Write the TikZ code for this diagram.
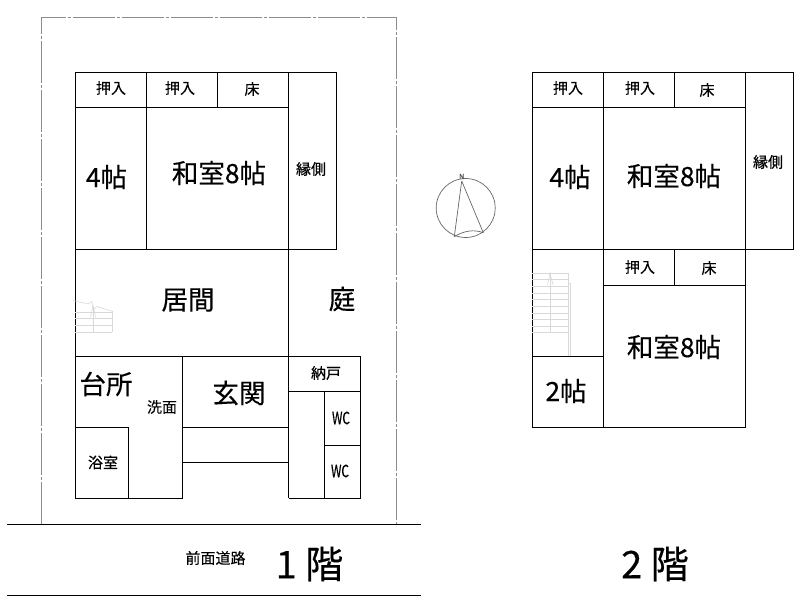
\documentclass[tikz,border=0pt]{standalone}
\usepackage{fontspec}
\setmainfont{Noto Sans CJK JP}[RawFeature={embolden=0.35}]
\begin{document}
\begin{tikzpicture}[x=1pt, y=-1pt, align=center]
    \tikzset{
        wall/.style     =   { draw=black
                            , line width=0.9pt
        }
        , site/.style   =   { draw=black!45
                            , line width=0.9pt
                            , dash pattern=on 42pt off 2pt on 3pt off 2pt
        }
        , stair/.style  =   { draw=black!15
                            , line width=0.6pt
        }
        , compass/.style =  { draw=black!60
                            , line width=0.7pt
        }
        , huge/.style   =   { inner sep=0pt
                            , font=\fontsize{38}{38}\selectfont
        }
        , big/.style    =   { inner sep=0pt
                            , font=\fontsize{26.5}{26.5}\selectfont
        }
        , small/.style  =   { inner sep=0pt
                            , font=\fontsize{15}{15}\selectfont
        }
        , narrow/.style =   { inner sep=0pt
                            , font=\fontsize{17}{17}\selectfont
                            , xscale=0.7
        }
    }
    \useasboundingbox (0,0) rectangle (800,611);

    % site and road
    \draw[site] (41,524) -- (41,17) -- (396,17) -- (396,524);
    \draw[wall] (7,524.5) -- (421,524.5);
    \draw[wall] (7,595) -- (421,595);

    % first floor
    \draw[wall] (75,72) rectangle (336,249);
    \draw[wall] (75,107) -- (288.5,107);
    \draw[wall] (146.5,72) -- (146.5,249);
    \draw[wall] (217.5,72) -- (217.5,107);
    \draw[wall] (288.5,72) -- (288.5,498);
    \draw[wall] (75,249) -- (75,498) -- (182,498) -- (182,356);
    \draw[wall] (75,356) -- (360,356) -- (360,498) -- (288.5,498);
    \draw[wall] (75,427) -- (128.5,427) -- (128.5,498);
    \draw[wall] (182,427) -- (288.5,427);
    \draw[wall] (182,462.5) -- (288.5,462.5);
    \draw[wall] (288.5,391) -- (360,391);
    \draw[wall] (324.5,391) -- (324.5,498);
    \draw[wall] (324.5,445) -- (360,445);

    % first floor stairs
    \foreach \y in {312,318.5,325,332} {
        \draw[stair] (75,\y) -- (112,\y);
    }
    \draw[stair] (93,306) -- (93,332);
    \draw[stair] (112,311) -- (112,332);
    \draw[stair] (73,300.5) -- (88,304) -- (92,301.5) -- (93,310) -- (97,306.5) -- (113,311.5);
    \draw[stair] (90.5,317) -- (93.3,306.5) -- (95.5,317);

    % second floor
    \draw[wall] (532,72) rectangle (793,249);
    \draw[wall] (532,107) -- (745.5,107);
    \draw[wall] (603.5,72) -- (603.5,427);
    \draw[wall] (674.5,72) -- (674.5,107);
    \draw[wall] (745.5,72) -- (745.5,427) -- (532,427) -- (532,249);
    \draw[wall] (603.5,285) -- (745.5,285);
    \draw[wall] (674.5,249) -- (674.5,285);
    \draw[wall] (532,356) -- (603.5,356);

    % second floor stairs
    \foreach \y in {273,279.5,286,293,299.5,306,313,319.5,326,332.5} {
        \draw[stair] (532,\y) -- (568,\y);
    }
    \draw[stair] (550,273) -- (550,333);
    \draw[stair] (568,273) -- (568,356);
    \draw[stair] (568,283) -- (570.5,283) -- (570.5,356);
    \draw[stair] (547.5,285) -- (550,273) -- (553,285);

    % north mark
    \draw[compass] (465.7,208) circle (29.5);
    \draw[compass] (461.7,181) -- (454.3,236.7) (461.7,181) -- (483.3,232.7);
    \draw[compass] (454.3,236.7) .. controls (463,231) and (474,229) .. (483.3,232.7);
    \node(north)[inner sep=0pt, text=black!70, font=\fontsize{7}{7}\selectfont] at (461.7,176.5) {N};

    % first floor labels
    \node(closet1)[small]  at (111,88)    {押入};
    \node(closet2)[small]  at (180,88)    {押入};
    \node(alcove1)[small]  at (252,89)    {床};
    \node(room4)[big]      at (106.5,177) {4帖};
    \node(room8)[big]      at (219,173)   {和室8帖};
    \node(veranda1)[small] at (311,169)   {縁側};
    \node(living)[big]     at (188,300)   {居間};
    \node(garden)[big]     at (342,299)   {庭};
    \node(kitchen)[big]    at (106,384)   {台所};
    \node(wash)[small]     at (162,407)   {洗面};
    \node(entry)[big]      at (239,393)   {玄関};
    \node(storage)[small]  at (326,373)   {納戸};
    \node(wc1)[narrow]     at (341,418)   {WC};
    \node(wc2)[narrow]     at (340,471)   {WC};
    \node(bath)[small]     at (103,462.5) {浴室};
    \node(road)[small]     at (215.5,558) {前面道路};
    \node(floor1)[huge]    at (309.5,564) {1 階};

    % second floor labels
    \node(closet3)[small]  at (568,88)    {押入};
    \node(closet4)[small]  at (640,88)    {押入};
    \node(alcove2)[small]  at (707,90)    {床};
    \node(room4b)[big]     at (570,177)   {4帖};
    \node(room8b)[big]     at (674,176)   {和室8帖};
    \node(veranda2)[small] at (768,162)   {縁側};
    \node(closet5)[small]  at (640,267)   {押入};
    \node(alcove3)[small]  at (709,268)   {床};
    \node(room8c)[big]     at (674,347)   {和室8帖};
    \node(room2)[big]      at (566,391)   {2帖};
    \node(floor2)[huge]    at (655,564)   {2 階};
\end{tikzpicture}
\end{document}
